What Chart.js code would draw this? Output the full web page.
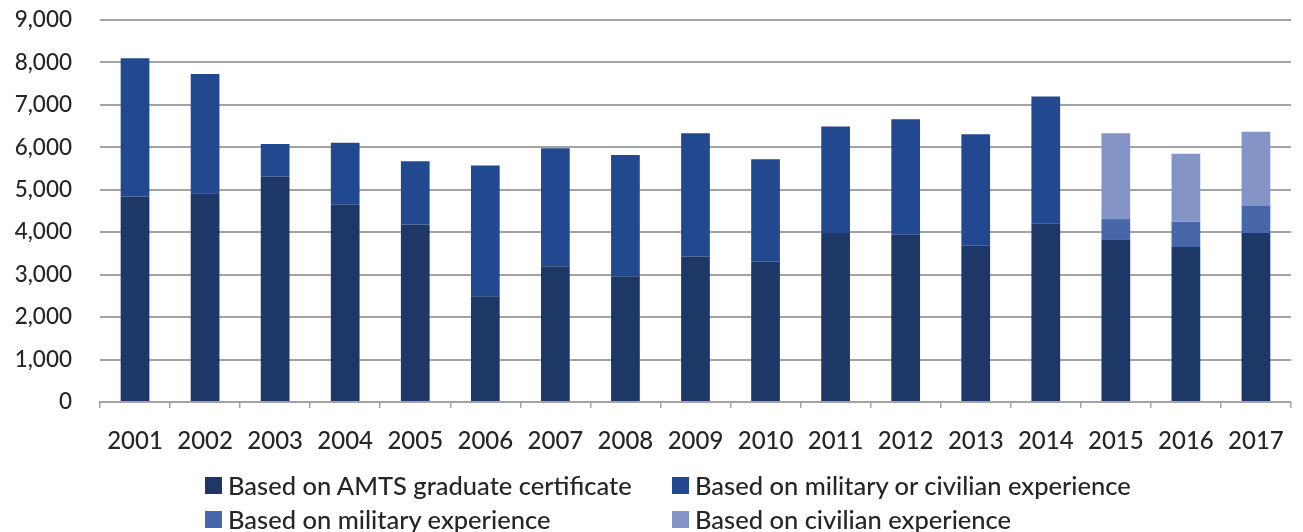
<!DOCTYPE html>
<html>
<head>
<meta charset="utf-8">
<script src="https://cdn.jsdelivr.net/npm/chart.js@4/dist/chart.umd.min.js"></script>
<style>
  html, body { margin: 0; padding: 0; background: #ffffff; }
  #wrap { position: relative; width: 1303px; height: 532px; }
  #chart { position: absolute; left: 0; top: 0; }
  #legend {
    position: absolute; left: 205px; top: 472px;
    display: grid; grid-template-columns: 467px auto; row-gap: 8px;
    font-family: Lato, "Liberation Sans", sans-serif; font-size: 25.5px; font-weight: 500;
    color: #262626;
  }
  .item { display: flex; align-items: center; height: 26px; white-space: nowrap; }
  .sw { width: 17px; height: 17px; margin-right: 6px; flex: none; }
</style>
</head>
<body>
<div id="wrap">
  <canvas id="chart" width="1303" height="532"></canvas>
  <div id="legend"></div>
</div>
<script>
// Categories: fiscal years
const years = ['2001','2002','2003','2004','2005','2006','2007','2008','2009',
               '2010','2011','2012','2013','2014','2015','2016','2017'];

// Certificates issued, by basis
const amtsCertificate = [4840, 4920, 5310, 4650, 4180, 2490, 3200, 2960, 3430,
                         3310, 3980, 3940, 3680, 4200, 3820, 3650, 3980];
const militaryOrCivilian = [3260, 2810, 770, 1460, 1490, 3080, 2780, 2860, 2900,
                            2410, 2510, 2720, 2630, 3000, null, null, null];
const militaryOnly = [null, null, null, null, null, null, null, null, null,
                      null, null, null, null, null, 490, 600, 650];
const civilianOnly = [null, null, null, null, null, null, null, null, null,
                      null, null, null, null, null, 2020, 1600, 1740];

// Value axis ticks
const yTicks = [0, 1000, 2000, 3000, 4000, 5000, 6000, 7000, 8000, 9000];

const seriesNames = [
  'Based on AMTS graduate certificate',
  'Based on military or civilian experience',
  'Based on military experience',
  'Based on civilian experience'
];
const seriesColors = ['#1d3767', '#22498f', '#4866aa', '#8594c7'];
const seriesData = [amtsCertificate, militaryOrCivilian, militaryOnly, civilianOnly];

const datasets = seriesData.map((d, i) => ({
  label: seriesNames[i],
  data: d,
  backgroundColor: seriesColors[i],
  borderWidth: 0,
  barPercentage: 0.41,
  categoryPercentage: 1.0
}));

const gridGray = '#a3a3a3';
const textGray = '#262626';

new Chart(document.getElementById('chart'), {
  type: 'bar',
  data: { labels: years, datasets },
  options: {
    responsive: false,
    animation: false,
    layout: { padding: { top: 0, right: 7, bottom: 70, left: 0 } },
    plugins: { legend: { display: false }, tooltip: { enabled: false } },
    scales: {
      x: {
        stacked: true,
        offset: true,
        grid: { display: true, drawOnChartArea: false, drawTicks: true, tickLength: 6,
                offset: true, color: gridGray, lineWidth: 1.5 },
        border: { display: true, color: gridGray, width: 2 },
        ticks: { color: textGray, padding: 19, maxRotation: 0,
                 font: { family: 'Lato', size: 24, weight: '500' } },
        afterFit: s => { s.height = 60; }
      },
      y: {
        stacked: true,
        min: 0, max: 9000,
        afterBuildTicks: s => { s.ticks = yTicks.map(v => ({ value: v })); },
        grid: { color: gridGray, lineWidth: 2, drawTicks: false },
        border: { display: false },
        ticks: { color: textGray, padding: 28,
                 font: { family: 'Lato', size: 22.5, weight: '500' },
                 callback: v => v.toLocaleString('en-US') },
        afterFit: s => { s.width = 100; }
      }
    }
  },
  plugins: [{
    // pin the plot area so the 9,000 line sits 20px below the top edge
    id: 'plotTop',
    afterLayout(chart) {
      const y = chart.scales.y;
      const top = 20;
      chart.chartArea.top = top;
      y.top = top;
      y.height = y.bottom - top;
      y.configure();
      y._startPixel = top;
      y._length = y.bottom - top;
    }
  }]
});

// Two-column legend under the plot
const legend = document.getElementById('legend');
seriesNames.forEach((name, i) => {
  const item = document.createElement('div');
  item.className = 'item';
  const sw = document.createElement('span');
  sw.className = 'sw';
  sw.style.background = seriesColors[i];
  const tx = document.createElement('span');
  tx.textContent = name;
  item.appendChild(sw);
  item.appendChild(tx);
  legend.appendChild(item);
});
</script>
</body>
</html>
